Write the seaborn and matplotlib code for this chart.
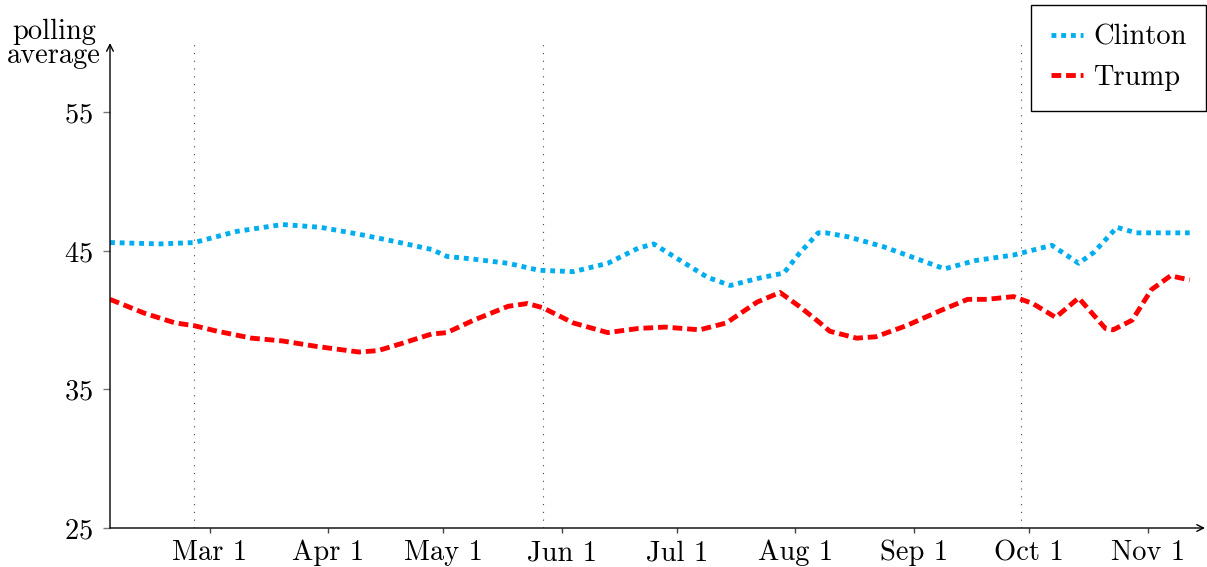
import numpy as np
import pandas as pd
import seaborn as sns
import matplotlib.pyplot as plt

# polling averages
clinton_dates = ['2016-02-04', '2016-02-17', '2016-02-26', '2016-03-08', '2016-03-20',
                 '2016-03-30', '2016-04-09', '2016-04-18', '2016-04-28', '2016-05-02',
                 '2016-05-09', '2016-05-18', '2016-05-26', '2016-06-04', '2016-06-13',
                 '2016-06-21', '2016-06-25', '2016-07-02', '2016-07-09', '2016-07-15',
                 '2016-07-22', '2016-07-29', '2016-08-02', '2016-08-07', '2016-08-09',
                 '2016-08-15', '2016-08-24', '2016-09-02', '2016-09-09', '2016-09-17',
                 '2016-09-27', '2016-10-07', '2016-10-14', '2016-10-18', '2016-10-24',
                 '2016-10-29', '2016-11-12']
clinton_vals = [45.6, 45.5, 45.6, 46.4, 46.9,
                46.7, 46.2, 45.7, 45.1, 44.6,
                44.4, 44.1, 43.6, 43.5, 44.1,
                45.2, 45.5, 44.3, 43.1, 42.5,
                43.0, 43.4, 44.8, 46.3, 46.3,
                46.0, 45.3, 44.4, 43.7, 44.3,
                44.7, 45.4, 44.1, 44.9, 46.7,
                46.3, 46.3]

trump_dates = ['2016-02-04', '2016-02-13', '2016-02-21', '2016-02-26', '2016-03-03',
               '2016-03-12', '2016-03-20', '2016-03-29', '2016-04-09', '2016-04-14',
               '2016-04-20', '2016-04-28', '2016-05-02', '2016-05-09', '2016-05-18',
               '2016-05-23', '2016-05-27', '2016-06-04', '2016-06-13', '2016-06-21',
               '2016-06-28', '2016-07-07', '2016-07-14', '2016-07-22', '2016-07-28',
               '2016-08-02', '2016-08-07', '2016-08-10', '2016-08-17', '2016-08-22',
               '2016-08-30', '2016-09-08', '2016-09-15', '2016-09-20', '2016-09-27',
               '2016-10-02', '2016-10-08', '2016-10-14', '2016-10-21', '2016-10-23',
               '2016-10-28', '2016-11-02', '2016-11-07', '2016-11-12']
trump_vals = [41.5, 40.5, 39.8, 39.6, 39.2,
              38.7, 38.5, 38.1, 37.7, 37.8,
              38.3, 39.0, 39.1, 40.0, 41.0,
              41.2, 40.9, 39.8, 39.1, 39.4,
              39.5, 39.3, 39.8, 41.3, 42.0,
              41.0, 39.9, 39.2, 38.7, 38.8,
              39.6, 40.7, 41.5, 41.5, 41.7,
              41.2, 40.2, 41.6, 39.4, 39.3,
              40.0, 42.2, 43.2, 42.9]

event_dates = ['2016-02-26', '2016-05-27', '2016-09-29']
tick_dates = ['2016-03-01', '2016-04-01', '2016-05-01', '2016-06-01',
              '2016-07-01', '2016-08-01', '2016-09-01', '2016-10-01', '2016-11-01']
tick_labels = ['Mar 1', 'Apr 1', 'May 1', 'Jun 1', 'Jul 1', 'Aug 1', 'Sep 1', 'Oct 1', 'Nov 1']
y_ticks = [25, 35, 45, 55]

sns.set_theme(style='white')
plt.rcParams['font.family'] = ['cmr10', 'DejaVu Serif']
plt.rcParams['axes.formatter.use_mathtext'] = True
plt.rcParams['mathtext.fontset'] = 'cm'
plt.rcParams['text.color'] = 'black'
plt.rcParams['xtick.labelcolor'] = 'black'
plt.rcParams['ytick.labelcolor'] = 'black'

df = pd.concat([
    pd.DataFrame({'date': pd.to_datetime(clinton_dates), 'value': clinton_vals, 'candidate': 'Clinton'}),
    pd.DataFrame({'date': pd.to_datetime(trump_dates), 'value': trump_vals, 'candidate': 'Trump'}),
], ignore_index=True)

fs = 20.5
fig = plt.figure(figsize=(12.07, 5.67), dpi=100)
ax = fig.add_axes([110 / 1207, 39 / 567, 1095 / 1207, 485 / 567])
ax.set_facecolor('none')

sns.lineplot(data=df, x='date', y='value', hue='candidate', style='candidate',
             palette={'Clinton': '#00AEEF', 'Trump': '#FF0000'},
             dashes={'Clinton': (1, 1), 'Trump': (2, 1)},
             lw=3.5, ax=ax, legend=False, estimator=None, sort=True)

handles = ax.lines[:2]
for ln in handles:
    ln.set_solid_joinstyle('round')
    ln.set_dash_joinstyle('round')

for d in pd.to_datetime(event_dates):
    ax.axvline(d, color='#444444', lw=0.8, linestyle=(0, (1, 6)), zorder=0)

ax.set_xlim(pd.Timestamp(clinton_dates[0]), pd.Timestamp('2016-11-16'))
ax.set_ylim(25, 60)
ax.set_xticks(pd.to_datetime(tick_dates))
ax.set_xticklabels(tick_labels)
ax.set_yticks(y_ticks)
ax.set_xlabel('')
ax.set_ylabel('')

for s in ax.spines.values():
    s.set_visible(False)
arrow = dict(arrowstyle='->', lw=1.0, color='black', shrinkA=0, shrinkB=0, mutation_scale=12)
ax.annotate('', xy=(1, 0), xytext=(0, 0), xycoords='axes fraction', arrowprops=arrow, annotation_clip=False)
ax.annotate('', xy=(0, 1), xytext=(0, 0), xycoords='axes fraction', arrowprops=arrow, annotation_clip=False)

ax.tick_params(axis='x', bottom=True, direction='out', length=3.5, width=1, color='#444444',
               pad=5, labelsize=fs, labelcolor='black')
ax.tick_params(axis='y', left=True, direction='out', length=5, width=1, color='#777777',
               pad=7, labelsize=fs, labelcolor='black')

fig.text(54 / 1207, 1 - 44 / 567, 'polling\naverage', ha='center', va='center',
         fontsize=fs, linespacing=0.9, color='black')

leg = ax.legend(handles, ['Clinton', 'Trump'], loc='upper right',
                bbox_to_anchor=(1206 / 1207, 1 - 5 / 567), bbox_transform=fig.transFigure,
                borderaxespad=0, fancybox=False, frameon=True, framealpha=1,
                edgecolor='black', fontsize=fs, handlelength=1.15, handletextpad=0.35,
                borderpad=0.68, labelspacing=0.5)
leg.get_frame().set_linewidth(1.0)
for t in leg.get_texts():
    t.set_color('black')

fig.savefig('out.png', dpi=100)
plt.close()
